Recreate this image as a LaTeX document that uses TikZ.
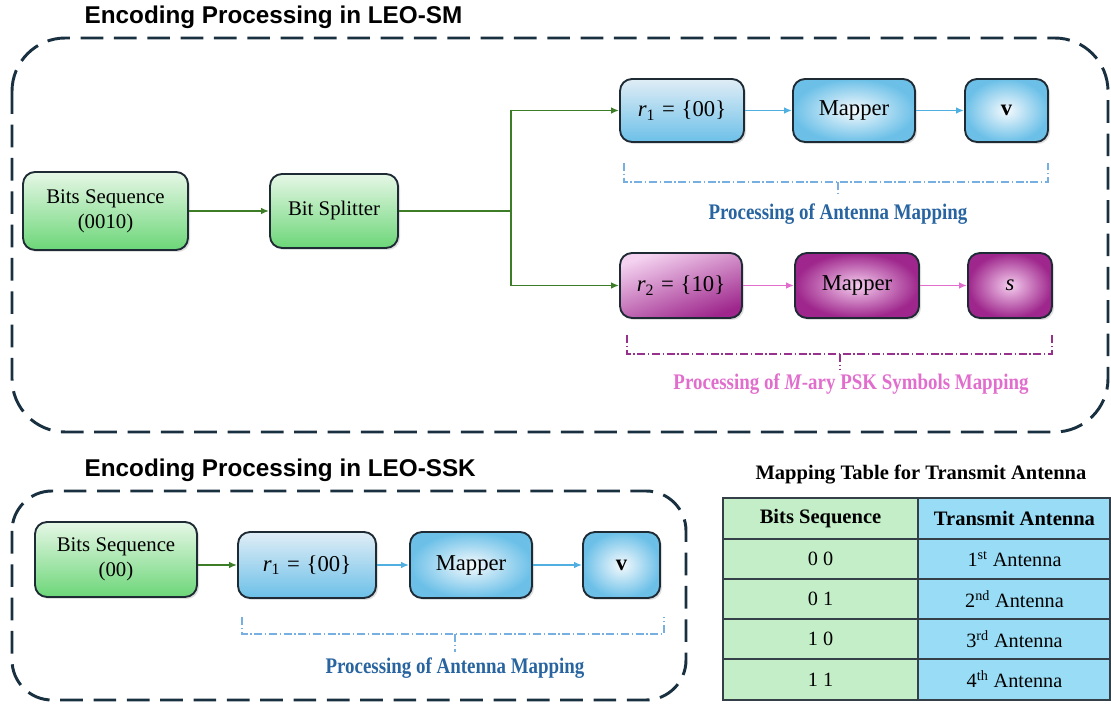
\documentclass[tikz,border=0pt]{standalone}
\usepackage{fontspec}
\setmainfont{Liberation Serif}
\newfontfamily\headfont{Liberation Sans}
\newfontfamily\boxfont{Liberation Serif}
\newfontfamily\narrowfont[FakeStretch=0.85]{Liberation Serif}
\usetikzlibrary{arrows.meta,shadows}

\definecolor{framec}{RGB}{25,48,64}
\definecolor{edgec}{RGB}{30,42,52}
\definecolor{glinec}{RGB}{62,125,40}
\definecolor{blinec}{RGB}{80,175,225}
\definecolor{plinec}{RGB}{225,110,205}
\definecolor{gtop}{RGB}{230,247,230}
\definecolor{gbot}{RGB}{108,214,120}
\definecolor{btop}{RGB}{224,237,246}
\definecolor{bbot}{RGB}{108,192,232}
\definecolor{bin}{RGB}{245,250,253}
\definecolor{ptop}{RGB}{244,210,240}
\definecolor{pbot}{RGB}{158,38,140}
\definecolor{pin}{RGB}{245,205,238}
\definecolor{btxt}{RGB}{40,100,160}
\definecolor{bbrace}{RGB}{120,175,225}
\definecolor{pbrace}{RGB}{150,50,140}
\definecolor{tgreen}{RGB}{195,238,200}
\definecolor{tblue}{RGB}{152,220,245}

\begin{document}
\begin{tikzpicture}[x=0.75pt,y=-0.75pt,
  box/.style={draw=edgec,line width=1.4pt,rounded corners=9pt,align=center,
    drop shadow={opacity=0.25,shadow xshift=1.5pt,shadow yshift=-1.5pt}},
  small/.style={font=\boxfont\fontsize{15.6}{18.5}\selectfont},
  big/.style={font=\boxfont\fontsize{17}{20}\selectfont},
  gbox/.style={box,small,top color=gtop,bottom color=gbot},
  bbox/.style={box,big,top color=btop,bottom color=bbot},
  bradial/.style={box,big,inner color=bin,outer color=bbot},
  pbox/.style={box,big,shading=axis,top color=ptop,bottom color=pbot,shading angle=20},
  pradial/.style={box,big,inner color=pin,outer color=pbot},
  frame/.style={draw=framec,line width=2.2pt,dash pattern=on 17pt off 8pt},
  garrow/.style={draw=glinec,line width=1.3pt,-{Latex[length=6pt,width=5pt]}},
  barrow/.style={draw=blinec,line width=1.3pt,-{Latex[length=6pt,width=5pt]}},
  parrow/.style={draw=plinec,line width=1.3pt,-{Latex[length=6pt,width=5pt]}},
  brace/.style={line width=0.8pt,dash pattern=on 6pt off 2pt on 1pt off 2pt},
  heading/.style={anchor=west,font=\headfont\bfseries\fontsize{18.2}{21}\selectfont},
  caption/.style={font=\narrowfont\bfseries\fontsize{16.7}{19}\selectfont},
  cell/.style={font=\rmfamily\fontsize{15.2}{18}\selectfont},
  tabline/.style={draw=edgec!90,line width=1pt}]
\useasboundingbox (0,0) rectangle (1111,705);

% LEO-SM
\node[heading] (smtitle) at (80,17) {Encoding Processing in LEO-SM};
\draw[frame,rounded corners=40pt] (12,38) rectangle (1108,432);

\node[gbox,minimum width=123.75pt,minimum height=58.5pt] (bits1) at (105.5,211) {Bits Sequence\\(0010)};
\node[gbox,minimum width=96pt,minimum height=55.5pt] (split) at (334,211) {Bit Splitter};
\coordinate (fork) at (511,211);

\node[bbox,minimum width=93pt,minimum height=47.25pt] (r1a) at (682,110.5) {\textit{r}\textsubscript{1}\hspace{0.3em}=\hspace{0.3em}\{00\}};
\node[bradial,minimum width=91.5pt,minimum height=47.25pt] (mapa) at (854,110.5) {Mapper};
\node[bradial,minimum width=62.25pt,minimum height=47.25pt] (va) at (1006.5,110.5) {\textbf{v}};

\node[pbox,minimum width=91.5pt,minimum height=48.75pt] (r2b) at (681,285.5) {\textit{r}\textsubscript{2}\hspace{0.3em}=\hspace{0.3em}\{10\}};
\node[pradial,minimum width=93pt,minimum height=48.75pt] (mapb) at (857,285.5) {Mapper};
\node[pradial,minimum width=63pt,minimum height=48.75pt] (sb) at (1010,285.5) {\textit{s}};

\draw[garrow] (bits1) -- (split);
\draw[draw=glinec,line width=1.3pt] (split) -- (fork);
\draw[garrow] (fork) |- (r1a);
\draw[garrow] (fork) |- (r2b);
\draw[barrow] (r1a) -- (mapa);
\draw[barrow] (mapa) -- (va);
\draw[parrow] (r2b) -- (mapb);
\draw[parrow] (mapb) -- (sb);

\draw[brace,bbrace] (624,163) -- (624,182) -- (1048,182) -- (1048,163);
\draw[brace,bbrace] (838,182) -- (838,196);
\node[caption,text=btxt] (capa) at (838,214) {Processing of Antenna Mapping};

\draw[brace,pbrace] (627,335) -- (627,354) -- (1052,354) -- (1052,335);
\draw[brace,pbrace] (840,354) -- (840,370);
\node[caption,text=plinec] (capb) at (851,384) {Processing of \textit{M}-ary PSK Symbols Mapping};

% LEO-SSK
\node[heading] (ssktitle) at (80,470) {Encoding Processing in LEO-SSK};
\draw[frame,rounded corners=30pt] (12,491) rectangle (686,700);

\node[gbox,minimum width=121.5pt,minimum height=56.25pt] (bits2) at (116,559.5) {Bits Sequence\\(00)};
\node[bbox,minimum width=103.5pt,minimum height=49.5pt] (r1c) at (307,565) {\textit{r}\textsubscript{1}\hspace{0.3em}=\hspace{0.3em}\{00\}};
\node[bradial,minimum width=91.5pt,minimum height=49.5pt] (mapc) at (471,565) {Mapper};
\node[bradial,minimum width=57.75pt,minimum height=49.5pt] (vc) at (621.5,565) {\textbf{v}};

\draw[garrow] (bits2.east |- r1c) -- (r1c);
\draw[barrow] (r1c) -- (mapc);
\draw[barrow] (mapc) -- (vc);

\draw[brace,bbrace] (242,617) -- (242,634) -- (664,634) -- (664,617);
\draw[brace,bbrace] (455,634) -- (455,652);
\node[caption,text=btxt] (capc) at (455,668) {Processing of Antenna Mapping};

% mapping table
\node[cell,font=\bfseries\fontsize{15.4}{18}\selectfont] (tabtitle) at (921,475) {Mapping Table for Transmit Antenna};
\fill[tgreen] (723,498) rectangle (918,700);
\fill[tblue] (918,498) rectangle (1110,700);
\foreach \y in {539,579,619,659}
  \draw[tabline] (723,\y) -- (1110,\y);
\draw[tabline] (918,498) -- (918,700);
\draw[tabline] (723,498) rectangle (1110,700);
\node[cell,font=\bfseries\fontsize{15.4}{18}\selectfont] (head1) at (820.5,518.5) {Bits Sequence};
\node[cell,font=\bfseries\fontsize{15.4}{18}\selectfont] (head2) at (1014.5,518.5) {Transmit Antenna};
\foreach \b/\a/\s/\y [count=\i] in {0 0/1/st/559,0 1/2/nd/599,1 0/3/rd/639,1 1/4/th/679.5}{
  \node[cell] (seq\i) at (820.5,\y) {\b};
  \node[cell] (ant\i) at (1014.5,\y) {\a\textsuperscript{\s} Antenna};
}
\end{tikzpicture}
\end{document}
